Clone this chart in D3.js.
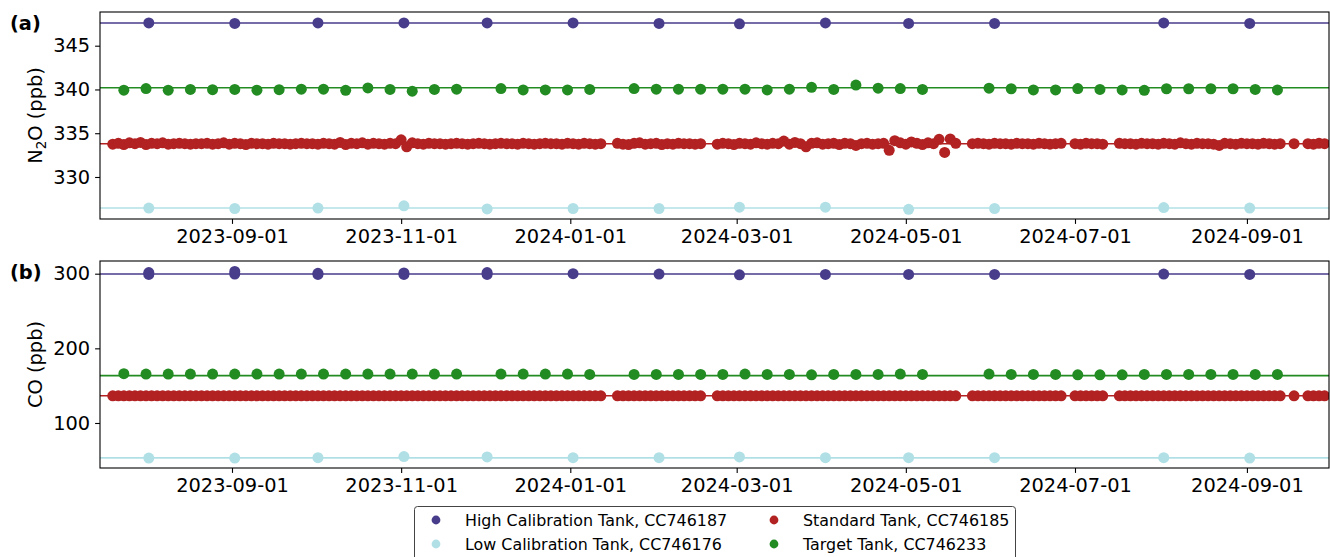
<!DOCTYPE html>
<html>
<head>
<meta charset="utf-8">
<script src="https://cdn.jsdelivr.net/npm/d3@7"></script>
<style>
  body { margin: 0; background: #fff; }
  svg { display: block; font-family: "DejaVu Sans", sans-serif; }
</style>
</head>
<body>
<svg width="1330" height="557"></svg>
<script>
// calibration tanks are run once a month
const calibDates = ['2023-08-02', '2023-09-02', '2023-10-02', '2023-11-02', '2023-12-02', '2024-01-02',
  '2024-02-02', '2024-03-02', '2024-04-02', '2024-05-02', '2024-06-02', '2024-08-02', '2024-09-02'];
const highN2O = [347.6, 347.55, 347.6, 347.6, 347.6, 347.6, 347.55, 347.5, 347.6, 347.55, 347.55, 347.6, 347.55];
const lowN2O = [326.45, 326.4, 326.45, 326.7, 326.35, 326.4, 326.4, 326.55, 326.55, 326.3, 326.4, 326.5, 326.45];
const highCO = [299, 299.5, 299, 299, 299, 300, 299.5, 298.5, 299, 299, 299, 299.5, 299];
const highCOrepeat = [['2023-08-02', 301.5], ['2023-09-02', 303], ['2023-10-02', 300.5], ['2023-11-02', 301], ['2023-12-02', 301.5]];
const lowCO = [53, 53, 53.5, 55, 54.5, 53.5, 53.5, 54.5, 53.5, 53.5, 53.5, 53.5, 53];

// target tank, every 8 days
const targetDates = ['2023-07-24', '2023-08-01', '2023-08-09', '2023-08-17', '2023-08-25', '2023-09-02',
  '2023-09-10', '2023-09-18', '2023-09-26', '2023-10-04', '2023-10-12', '2023-10-20', '2023-10-28',
  '2023-11-05', '2023-11-13', '2023-11-21', '2023-12-07', '2023-12-15', '2023-12-23', '2023-12-31',
  '2024-01-08', '2024-01-24', '2024-02-01', '2024-02-09', '2024-02-17', '2024-02-25', '2024-03-04',
  '2024-03-12', '2024-03-20', '2024-03-28', '2024-04-05', '2024-04-13', '2024-04-21', '2024-04-29',
  '2024-05-07', '2024-05-31', '2024-06-08', '2024-06-16', '2024-06-24', '2024-07-02', '2024-07-10',
  '2024-07-18', '2024-07-26', '2024-08-03', '2024-08-11', '2024-08-19', '2024-08-27', '2024-09-04',
  '2024-09-12'];
const targetN2O = [339.92, 340.1, 339.92, 340.0, 339.98, 340.0, 339.92, 339.97, 340.03, 340.03, 339.9, 340.18, 340.0,
  339.8, 340.0, 340.03, 340.1, 339.95, 339.95, 339.95, 340.0, 340.1, 340.03, 340.03, 340.03, 340.03, 340.03,
  339.95, 340.03, 340.25, 340.0, 340.5, 340.15, 340.1, 340.0, 340.15, 340.08, 339.95, 339.95, 340.1, 340.0,
  339.95, 339.9, 340.08, 340.08, 340.08, 340.08, 340.0, 339.95];
const targetCO = [166, 165.5, 165.5, 165.5, 165.5, 165.5, 165.5, 165.5, 165.5, 165.5, 165.5, 165.5, 165.5,
  165.5, 165.5, 165.5, 165.5, 165.5, 165.5, 165.5, 165, 165, 165, 165, 165, 165, 165.5,
  165, 165, 164.5, 165, 165, 165, 165.5, 165, 165.5, 165, 165, 165, 164.5, 164.5,
  164.5, 165, 165, 165, 165, 165, 165, 165];

// standard tank [date, N2O, CO]
const standardTank = [
  ['2023-07-20', 333.75, 136.4], ['2023-07-22', 333.85, 136.4], ['2023-07-24', 333.7, 136.4], ['2023-07-26', 333.9, 136.4],
  ['2023-07-28', 333.8, 136.4], ['2023-07-30', 333.95, 136.4], ['2023-08-01', 333.7, 136.4], ['2023-08-03', 333.85, 136.4],
  ['2023-08-05', 333.8, 136.4], ['2023-08-07', 333.9, 136.4], ['2023-08-09', 333.75, 136.4], ['2023-08-11', 333.8, 136.4],
  ['2023-08-13', 333.85, 136.4], ['2023-08-15', 333.8, 136.4], ['2023-08-17', 333.75, 136.4], ['2023-08-19', 333.8, 136.4],
  ['2023-08-21', 333.8, 136.4], ['2023-08-23', 333.85, 136.4], ['2023-08-25', 333.75, 136.4], ['2023-08-27', 333.8, 136.4],
  ['2023-08-29', 333.9, 136.4], ['2023-08-31', 333.75, 136.4], ['2023-09-02', 333.85, 136.4], ['2023-09-04', 333.8, 136.4],
  ['2023-09-06', 333.7, 136.4], ['2023-09-08', 333.85, 136.4], ['2023-09-10', 333.8, 136.4], ['2023-09-12', 333.8, 136.4],
  ['2023-09-14', 333.75, 136.4], ['2023-09-16', 333.85, 136.4], ['2023-09-18', 333.8, 136.4], ['2023-09-20', 333.8, 136.4],
  ['2023-09-22', 333.75, 136.4], ['2023-09-24', 333.8, 136.4], ['2023-09-26', 333.85, 136.4], ['2023-09-28', 333.8, 136.4],
  ['2023-09-30', 333.8, 136.4], ['2023-10-02', 333.75, 136.4], ['2023-10-04', 333.85, 136.4], ['2023-10-06', 333.8, 136.4],
  ['2023-10-08', 333.75, 136.4], ['2023-10-10', 333.95, 136.4], ['2023-10-12', 333.7, 136.4], ['2023-10-14', 333.85, 136.4],
  ['2023-10-16', 333.8, 136.4], ['2023-10-18', 333.9, 136.4], ['2023-10-20', 333.75, 136.4], ['2023-10-22', 333.85, 136.4],
  ['2023-10-24', 333.8, 136.4], ['2023-10-26', 333.75, 136.4], ['2023-10-28', 333.85, 136.4], ['2023-10-30', 333.8, 136.4],
  ['2023-11-01', 334.25, 136.4], ['2023-11-03', 333.45, 136.4], ['2023-11-05', 333.9, 136.4], ['2023-11-07', 333.8, 136.4],
  ['2023-11-09', 333.75, 136.4], ['2023-11-11', 333.85, 136.4], ['2023-11-13', 333.8, 136.4], ['2023-11-15', 333.8, 136.4],
  ['2023-11-17', 333.75, 136.4], ['2023-11-19', 333.8, 136.4], ['2023-11-21', 333.85, 136.4], ['2023-11-23', 333.8, 136.4],
  ['2023-11-25', 333.75, 136.4], ['2023-11-27', 333.8, 136.4], ['2023-11-29', 333.85, 136.4], ['2023-12-01', 333.8, 136.4],
  ['2023-12-03', 333.75, 136.4], ['2023-12-05', 333.8, 136.4], ['2023-12-07', 333.85, 136.4], ['2023-12-09', 333.8, 136.4],
  ['2023-12-11', 333.8, 136.4], ['2023-12-13', 333.75, 136.4], ['2023-12-15', 333.85, 136.4], ['2023-12-17', 333.8, 136.4],
  ['2023-12-19', 333.75, 136.4], ['2023-12-21', 333.8, 136.4], ['2023-12-23', 333.85, 136.4], ['2023-12-25', 333.8, 136.4],
  ['2023-12-27', 333.8, 136.4], ['2023-12-29', 333.75, 136.4], ['2023-12-31', 333.85, 136.4],
  ['2024-01-02', 333.8, 136.4], ['2024-01-04', 333.75, 136.4], ['2024-01-06', 333.85, 136.4], ['2024-01-08', 333.8, 136.4],
  ['2024-01-10', 333.75, 136.4], ['2024-01-12', 333.8, 136.4], ['2024-01-18', 333.85, 136.4], ['2024-01-20', 333.75, 136.4],
  ['2024-01-22', 333.7, 136.4], ['2024-01-24', 333.85, 136.4], ['2024-01-26', 333.9, 136.4], ['2024-01-28', 333.75, 136.4],
  ['2024-01-30', 333.8, 136.4], ['2024-02-01', 333.85, 136.4], ['2024-02-03', 333.7, 136.4], ['2024-02-05', 333.8, 136.4],
  ['2024-02-07', 333.75, 136.4], ['2024-02-09', 333.85, 136.4], ['2024-02-11', 333.8, 136.4], ['2024-02-13', 333.8, 136.4],
  ['2024-02-15', 333.75, 136.4], ['2024-02-17', 333.8, 136.4], ['2024-02-23', 333.75, 136.4], ['2024-02-25', 333.85, 136.4],
  ['2024-02-27', 333.8, 136.4], ['2024-02-29', 333.7, 136.4], ['2024-03-02', 333.85, 136.4], ['2024-03-04', 333.8, 136.4],
  ['2024-03-06', 333.75, 136.4], ['2024-03-08', 333.9, 136.4], ['2024-03-10', 333.8, 136.4], ['2024-03-12', 333.75, 136.4],
  ['2024-03-14', 333.85, 136.4], ['2024-03-16', 333.8, 136.4], ['2024-03-18', 334.1, 136.4], ['2024-03-20', 333.75, 136.4],
  ['2024-03-22', 333.95, 136.4], ['2024-03-24', 333.8, 136.4], ['2024-03-26', 333.45, 136.4], ['2024-03-28', 333.85, 136.4],
  ['2024-03-30', 333.9, 136.4], ['2024-04-01', 333.75, 136.4], ['2024-04-03', 333.8, 136.4], ['2024-04-05', 333.85, 136.4],
  ['2024-04-07', 333.7, 136.4], ['2024-04-09', 333.85, 136.4], ['2024-04-11', 333.8, 136.4], ['2024-04-13', 333.6, 136.4],
  ['2024-04-15', 333.8, 136.4], ['2024-04-17', 333.85, 136.4], ['2024-04-19', 333.75, 136.4], ['2024-04-21', 333.8, 136.4],
  ['2024-04-23', 333.85, 136.4], ['2024-04-25', 333.05, 136.4], ['2024-04-27', 334.15, 136.4], ['2024-04-29', 333.9, 136.4],
  ['2024-05-01', 333.75, 136.4], ['2024-05-03', 334.0, 136.4], ['2024-05-05', 333.85, 136.4], ['2024-05-07', 333.7, 136.4],
  ['2024-05-09', 333.9, 136.4], ['2024-05-11', 333.8, 136.4], ['2024-05-13', 334.3, 136.4], ['2024-05-15', 332.8, 136.4],
  ['2024-05-17', 334.35, 136.4], ['2024-05-19', 333.85, 136.4], ['2024-05-25', 333.8, 136.4], ['2024-05-27', 333.85, 136.4],
  ['2024-05-29', 333.8, 136.4], ['2024-05-31', 333.75, 136.4], ['2024-06-02', 333.85, 136.4], ['2024-06-04', 333.8, 136.4],
  ['2024-06-06', 333.8, 136.4], ['2024-06-08', 333.75, 136.4], ['2024-06-10', 333.85, 136.4], ['2024-06-12', 333.8, 136.4],
  ['2024-06-14', 333.8, 136.4], ['2024-06-16', 333.75, 136.4], ['2024-06-18', 333.85, 136.4], ['2024-06-20', 333.8, 136.4],
  ['2024-06-22', 333.75, 136.4], ['2024-06-24', 333.8, 136.4], ['2024-06-26', 333.85, 136.4], ['2024-07-01', 333.8, 136.4],
  ['2024-07-03', 333.75, 136.4], ['2024-07-05', 333.85, 136.4], ['2024-07-07', 333.8, 136.4], ['2024-07-09', 333.8, 136.4],
  ['2024-07-11', 333.75, 136.4], ['2024-07-17', 333.85, 136.4], ['2024-07-19', 333.8, 136.4], ['2024-07-21', 333.8, 136.4],
  ['2024-07-23', 333.75, 136.4], ['2024-07-25', 333.85, 136.4], ['2024-07-27', 333.8, 136.4], ['2024-07-29', 333.8, 136.4],
  ['2024-07-31', 333.75, 136.4], ['2024-08-02', 333.85, 136.4], ['2024-08-04', 333.8, 136.4], ['2024-08-06', 333.75, 136.4],
  ['2024-08-08', 333.9, 136.4], ['2024-08-10', 333.8, 136.4], ['2024-08-12', 333.75, 136.4], ['2024-08-14', 333.85, 136.4],
  ['2024-08-16', 333.8, 136.4], ['2024-08-18', 333.8, 136.4], ['2024-08-20', 333.75, 136.4], ['2024-08-22', 333.6, 136.4],
  ['2024-08-24', 333.85, 136.4], ['2024-08-26', 333.8, 136.4], ['2024-08-28', 333.75, 136.4], ['2024-08-30', 333.85, 136.4],
  ['2024-09-01', 333.8, 136.4], ['2024-09-03', 333.8, 136.4], ['2024-09-05', 333.75, 136.4], ['2024-09-07', 333.85, 136.4],
  ['2024-09-09', 333.8, 136.4], ['2024-09-11', 333.75, 136.4], ['2024-09-13', 333.8, 136.4], ['2024-09-18', 333.8, 136.4],
  ['2024-09-23', 333.8, 136.4], ['2024-09-25', 333.75, 136.4], ['2024-09-27', 333.85, 136.4], ['2024-09-29', 333.8, 136.4]
];

// assigned tank values (horizontal lines)
const refN2O = {high: 347.6, target: 340.2, standard: 333.8, low: 326.45};
const refCO = {high: 299.5, target: 163.5, standard: 136.4, low: 53.3};

const xTicks = ['2023-09-01', '2023-11-01', '2024-01-01', '2024-03-01', '2024-05-01', '2024-07-01', '2024-09-01'];
const n2oTicks = [330, 335, 340, 345];
const coTicks = [100, 200, 300];

const colors = {high: '#483d8b', low: '#b0e0e6', standard: '#b22222', target: '#228b22'};
const legendItems = [
  {key: 'high', label: 'High Calibration Tank, CC746187'},
  {key: 'low', label: 'Low Calibration Tank, CC746176'},
  {key: 'standard', label: 'Standard Tank, CC746185'},
  {key: 'target', label: 'Target Tank, CC746233'}
];

const parse = d3.utcParse('%Y-%m-%d');
const svg = d3.select('svg');
const left = 100, right = 1329;
const fontSize = 19.4;
const tick = 4.9;

const x = d3.scaleUtc()
  .domain([Date.UTC(2023, 6, 15, 9, 36), Date.UTC(2024, 8, 30, 14, 24)])
  .range([left, right]);

function seriesFor(which) {
  const i = which === 'n2o' ? 1 : 2;
  const out = {
    high: calibDates.map((d, k) => [d, which === 'n2o' ? highN2O[k] : highCO[k]]),
    low: calibDates.map((d, k) => [d, which === 'n2o' ? lowN2O[k] : lowCO[k]]),
    standard: standardTank.map(r => [r[0], r[i]]),
    target: targetDates.map((d, k) => [d, which === 'n2o' ? targetN2O[k] : targetCO[k]])
  };
  if (which === 'co') out.high = out.high.concat(highCOrepeat);
  return out;
}

const panels = [
  {id: 'a', top: 12, bottom: 219, domain: [325.2, 348.85], ticks: n2oTicks, ref: refN2O, series: seriesFor('n2o'), label: 'n2o'},
  {id: 'b', top: 261, bottom: 468, domain: [39.7, 317], ticks: coTicks, ref: refCO, series: seriesFor('co'), label: 'co'}
];

panels.forEach(p => {
  const y = d3.scaleLinear().domain(p.domain).range([p.bottom, p.top]);
  const g = svg.append('g');

  g.append('clipPath').attr('id', 'clip-' + p.id)
    .append('rect').attr('x', left).attr('y', p.top)
    .attr('width', right - left).attr('height', p.bottom - p.top);

  const plot = g.append('g').attr('clip-path', 'url(#clip-' + p.id + ')');

  ['high', 'low', 'standard', 'target'].forEach(key => {
    plot.append('line')
      .attr('x1', left).attr('x2', right)
      .attr('y1', y(p.ref[key])).attr('y2', y(p.ref[key]))
      .attr('stroke', colors[key]).attr('stroke-width', 1.6);
  });

  ['high', 'low', 'standard', 'target'].forEach(key => {
    plot.append('g').selectAll('circle')
      .data(p.series[key])
      .enter()
      .append('circle')
      .attr('cx', d => x(parse(d[0])))
      .attr('cy', d => y(d[1]))
      .attr('r', 5.5)
      .attr('fill', colors[key]);
  });

  // axes
  const xAxis = g.append('g')
    .attr('transform', 'translate(0,' + p.bottom + ')')
    .call(d3.axisBottom(x).tickValues(xTicks.map(parse)).tickFormat(d3.utcFormat('%Y-%m-%d'))
      .tickSize(tick).tickPadding(4.9));
  const yAxis = g.append('g')
    .attr('transform', 'translate(' + left + ',0)')
    .call(d3.axisLeft(y).tickValues(p.ticks).tickFormat(d3.format('d')).tickSize(tick).tickPadding(4.9));
  [xAxis, yAxis].forEach(ax => {
    ax.select('.domain').remove();
    ax.selectAll('line').attr('stroke', '#000').attr('stroke-width', 1.1);
    ax.selectAll('text').attr('font-size', fontSize).attr('font-family', 'DejaVu Sans').attr('fill', '#000');
  });

  g.append('rect')
    .attr('x', left).attr('y', p.top)
    .attr('width', right - left).attr('height', p.bottom - p.top)
    .attr('fill', 'none').attr('stroke', '#000').attr('stroke-width', 1.1);

  // y label
  const cy = (p.top + p.bottom) / 2;
  const lab = g.append('text')
    .attr('transform', 'translate(42,' + cy + ') rotate(-90)')
    .attr('text-anchor', 'middle')
    .attr('font-size', fontSize);
  if (p.label === 'n2o') {
    lab.append('tspan').text('N');
    lab.append('tspan').attr('font-size', 13.6).attr('dy', 4).text('2');
    lab.append('tspan').attr('dy', -4).text('O (ppb)');
  } else {
    lab.text('CO (ppb)');
  }

  // panel letter
  g.append('text')
    .attr('x', 10).attr('y', p.top + 18)
    .attr('font-size', fontSize).attr('font-weight', 'bold')
    .text('(' + p.id + ')');
});

// legend
const legend = svg.append('g');
legend.append('rect')
  .attr('x', 414.5).attr('y', 506.5).attr('width', 601).attr('height', 56)
  .attr('rx', 3).attr('fill', '#fff').attr('stroke', '#444').attr('stroke-width', 1);

const legendRows = legend.selectAll('g.item')
  .data(legendItems)
  .enter()
  .append('g')
  .attr('class', 'item')
  .attr('transform', (d, i) => 'translate(' + (i < 2 ? 436 : 774) + ',' + (i % 2 === 0 ? 520 : 544) + ')');

legendRows.append('circle').attr('r', 4.4).attr('fill', d => colors[d.key]);
legendRows.append('text')
  .attr('x', 29).attr('dy', '0.35em')
  .attr('font-size', 15.9)
  .text(d => d.label);
</script>
</body>
</html>
